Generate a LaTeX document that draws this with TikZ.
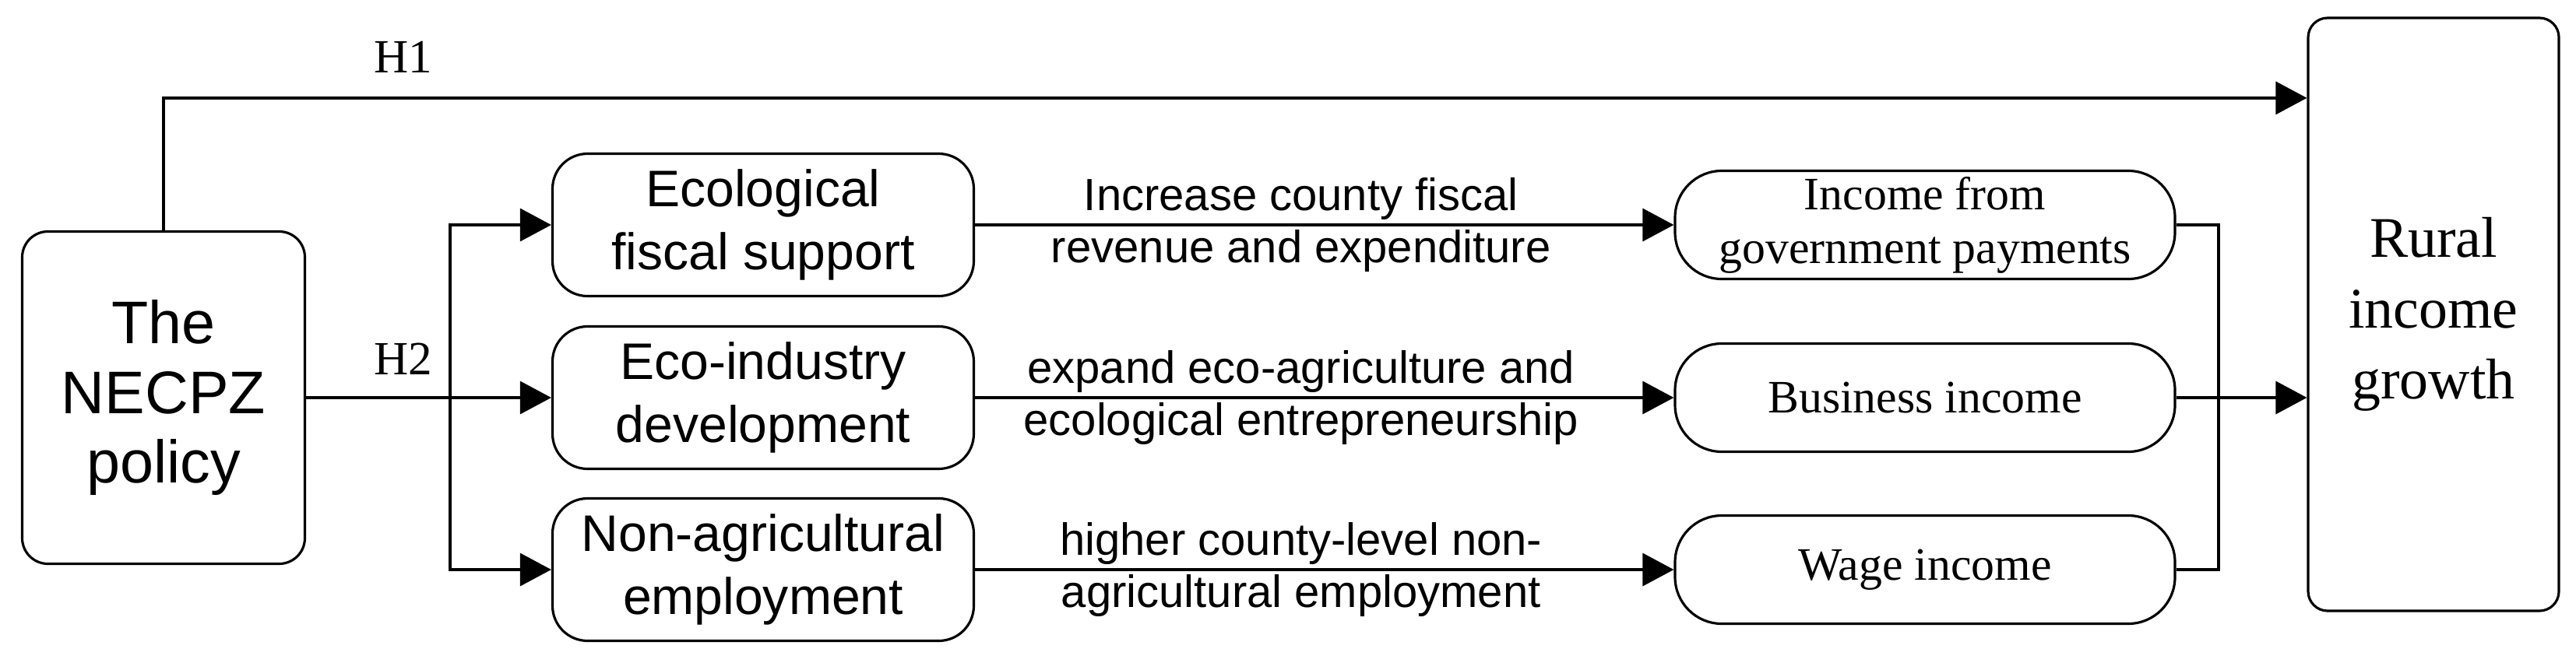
\documentclass[tikz,border=0pt]{standalone}
\usepackage{fontspec}
\setmainfont{Liberation Serif}
\setsansfont{Liberation Sans}
\usetikzlibrary{arrows.meta,positioning}

\begin{document}
\begin{tikzpicture}[>={Triangle[length=4mm,width=4.2mm]}, line width=0.9pt,
  declare function={sx=5.78; mx=28.49;},
  policybox/.style={draw, rounded corners=3.3mm, align=center, minimum width=3.63cm, minimum height=4.27cm,
                    font=\fontsize{22}{25.6}\selectfont\sffamily},
  mechbox/.style={draw, rounded corners=4.5mm, align=center, minimum width=5.41cm, minimum height=1.83cm,
                  inner sep=0pt, font=\fontsize{18.8}{23}\selectfont\sffamily},
  incomebox/.style={draw, rounded corners=6mm, align=center, minimum width=6.42cm, minimum height=1.39cm,
                    inner sep=0pt, font=\fontsize{17}{19.6}\selectfont},
  goalbox/.style={draw, rounded corners=2.5mm, align=center, minimum width=3.22cm, minimum height=7.62cm,
                  font=\fontsize{21}{25.9}\selectfont},
  pathlabel/.style={align=center, font=\fontsize{16.5}{19.3}\selectfont\sffamily},
  hlabel/.style={font=\fontsize{17.4}{20}\selectfont}]
% 0. canvas
\useasboundingbox (0,0) rectangle (33.08,-8.51);

% 1. boxes
\node[policybox] (policy) at (2.10,-5.11) {The\\NECPZ\\policy};
\node[goalbox]   (rural)  at (31.25,-4.04) {Rural\\income\\growth};

\node[mechbox] (fiscal)   at (9.80,-2.89) {Ecological\\fiscal support};
\node[mechbox] (industry) at (9.80,-5.11) {Eco-industry\\development};
\node[mechbox] (employ)   at (9.80,-7.32) {Non-agricultural\\employment};

\node[incomebox] (gov)  at (24.72,-2.89) {Income from\\government payments};
\node[incomebox] (biz)  at (24.72,-5.11) {Business income};
\node[incomebox] (wage) at (24.72,-7.32) {Wage income};

% 2. H1 direct path
\draw[->] (policy.north) -- ++(0,1.70) coordinate (h1) -- (h1 -| rural.west);
\node[hlabel] (h1label) at (5.18,-0.73) {H1};

% 3. H2 split
\coordinate (split) at (sx,-5.11);
\draw (policy.east) -- (split);
\foreach \m in {fiscal,industry,employ}
  \draw[->] (split) |- (\m.west);
\node[hlabel] (h2label) at (5.18,-4.61) {H2};

% 4. channels
\draw[->] (fiscal)   -- node[pathlabel, xshift=-3mm]{Increase county fiscal\\revenue and expenditure} (gov);
\draw[->] (industry) -- node[pathlabel, xshift=-3mm]{expand eco-agriculture and\\ecological entrepreneurship} (biz);
\draw[->] (employ)   -- node[pathlabel, xshift=-3mm]{higher county-level non-\\agricultural employment} (wage);

% 5. merge into growth
\coordinate (merge) at (mx,-5.11);
\draw (gov.east)  -| (merge);
\draw (wage.east) -| (merge);
\draw[->] (biz.east) -- (biz.east -| rural.west);
\end{tikzpicture}
\end{document}
